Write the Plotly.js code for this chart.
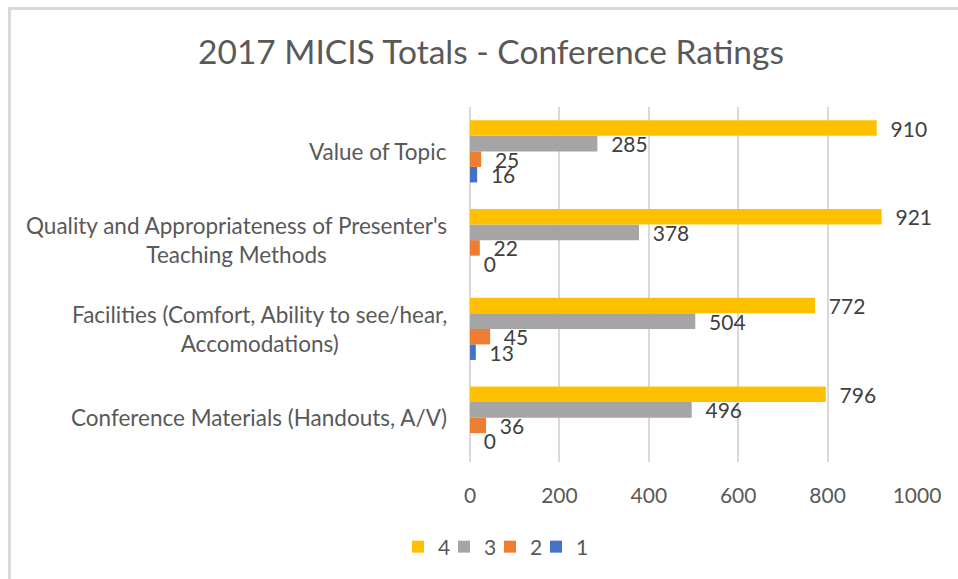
<!DOCTYPE html>
<html>
<head>
<meta charset="utf-8">
<script src="https://cdn.plot.ly/plotly-3.0.1.min.js"></script>
<style>
  html, body { margin: 0; padding: 0; background: #ffffff; }
  #wrap { position: relative; width: 958px; height: 579px; overflow: hidden; }
  #chart { position: absolute; left: 0; top: 0; width: 958px; height: 579px; }
  #frame { position: absolute; left: 8px; top: 7px; width: 1200px; height: 800px;
           border-top: 3px solid #d9d9d9; border-left: 3px solid #d9d9d9; pointer-events: none; }
</style>
</head>
<body>
<div id="wrap">
  <div id="chart"></div>
  <div id="frame"></div>
</div>
<script>
// Categories, bottom to top as drawn
const categories = [
  "Conference Materials (Handouts, A/V)",
  "Facilities (Comfort, Ability to see/hear,<br>Accomodations)",
  "Quality and Appropriateness of Presenter's<br>Teaching Methods",
  "Value of Topic"
];
const seriesNames = ["1", "2", "3", "4"];
const rating1 = [0, 13, 0, 16];
const rating2 = [36, 45, 22, 25];
const rating3 = [496, 504, 378, 285];
const rating4 = [796, 772, 921, 910];
const xTicks = [0, 200, 400, 600, 800, 1000];

const colors = ["#4472C4", "#ED7D31", "#A5A5A5", "#FFC000"];
const seriesValues = [rating1, rating2, rating3, rating4];

const FONT = "Lato, 'Open Sans', sans-serif";

const traces = seriesValues.map((vals, i) => ({
  type: "bar",
  orientation: "h",
  name: seriesNames[i],
  y: categories,
  x: vals,
  marker: { color: colors[i] },
  text: vals.map(v => String(v)),
  texttemplate: "\u00a0\u00a0%{text}",
  textposition: "outside",
  constraintext: "none",
  cliponaxis: false,
  textfont: { family: FONT, size: 21, color: "#404040" },
  hoverinfo: "x+name"
}));

const annotations = categories.map(c => ({
  xref: "paper", yref: "y",
  x: 0, y: c,
  xanchor: "right", yanchor: "middle",
  xshift: -21,
  text: c,
  align: "center",
  showarrow: false,
  font: { family: FONT, size: 22.5, color: "#595959" }
}));

const layout = {
  width: 958, height: 579,
  margin: { l: 470, r: 41, t: 107, b: 117 },
  paper_bgcolor: "#ffffff",
  plot_bgcolor: "#ffffff",
  font: { family: FONT, color: "#595959" },
  title: {
    text: "2017 MICIS Totals - Conference Ratings",
    font: { family: FONT, size: 33.5, color: "#595959" },
    x: 491 / 958, xanchor: "center",
    y: 1 - 52 / 579, yanchor: "middle"
  },
  barmode: "group",
  bargap: 0.30,
  bargroupgap: 0,
  xaxis: {
    range: [0, 1000],
    tickvals: xTicks,
    ticktext: xTicks.map(String),
    showgrid: true, gridcolor: "#d9d9d9", gridwidth: 2,
    zeroline: true, zerolinecolor: "#d9d9d9", zerolinewidth: 2,
    showline: false,
    ticks: "",
    ticklabelstandoff: 19,
    tickfont: { family: FONT, size: 21, color: "#595959" },
    fixedrange: true
  },
  yaxis: {
    type: "category",
    categoryorder: "array",
    categoryarray: categories,
    showticklabels: false,
    showgrid: false, zeroline: false, showline: false,
    ticks: "",
    fixedrange: true
  },
  showlegend: true,
  legend: {
    orientation: "h",
    traceorder: "reversed",
    xref: "container", yref: "container",
    x: 490 / 958, xanchor: "center",
    y: 1 - 547 / 579, yanchor: "middle",
    font: { family: FONT, size: 21, color: "#595959" },
    itemwidth: 30,
    entrywidth: 1,
    entrywidthmode: "pixels"
  },
  annotations: annotations
};

Plotly.newPlot("chart", traces, layout, { displayModeBar: false, staticPlot: true }).then(gd => {
  // compact legend entries: let the last label run past the legend box
  gd.querySelectorAll(".legend [clip-path]").forEach(el => el.removeAttribute("clip-path"));
});
</script>
</body>
</html>
